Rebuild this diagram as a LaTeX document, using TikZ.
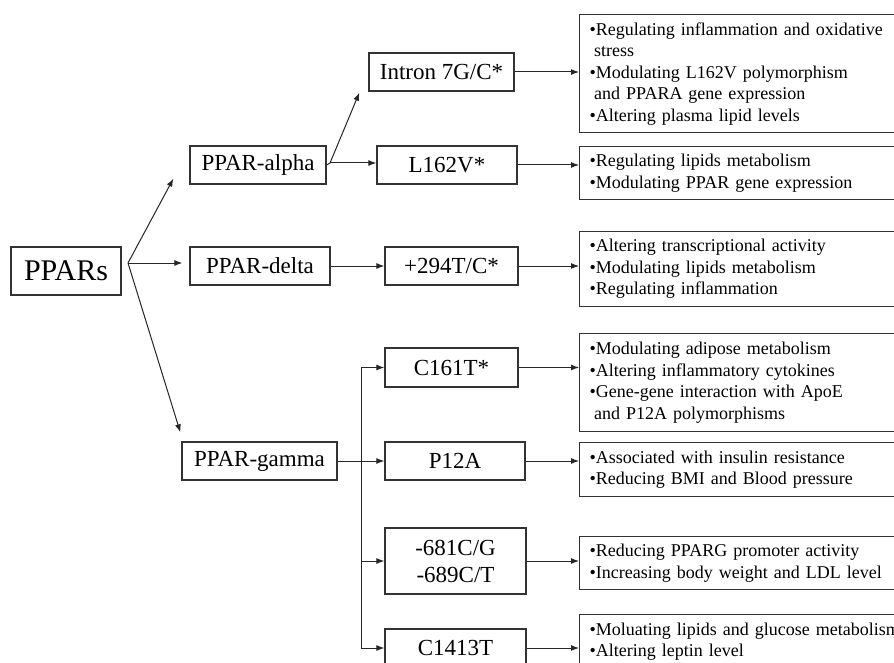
\documentclass[tikz,border=0pt]{standalone}
\usepackage{fontspec}
\setmainfont{Liberation Serif}
\usetikzlibrary{arrows.meta,calc}
\begin{document}
\begin{tikzpicture}[x=1pt,y=-1pt,
  box/.style={draw=black!80, line width=1.3pt, inner sep=0pt, font=\fontsize{23}{27}\selectfont, align=center},
  rbox/.style={draw=black!80, line width=1.3pt, anchor=north west, inner xsep=10pt, inner ysep=0pt, text width=400pt, align=left, font=\fontsize{18}{21.5}\selectfont},
  arr/.style={draw=black!85, line width=1pt, -{Latex[length=8pt,width=6pt]}},
  ln/.style={draw=black!85, line width=1pt}]
\useasboundingbox (0,0) rectangle (894,663);
\clip (0,0) rectangle (894,663);
\fill[white] (0,0) rectangle (894,663);
% left column
\node[box, minimum width=110pt, minimum height=48pt, font=\fontsize{30}{34}\selectfont] (ppars) at (66,271) {PPARs};
\node[box, minimum width=136pt, minimum height=38pt] (alpha) at (258,165) {PPAR-alpha};
\node[box, minimum width=140pt, minimum height=38pt] (delta) at (260,266) {PPAR-delta};
\node[box, minimum width=155pt, minimum height=38pt] (gamma) at (259.5,461) {PPAR-gamma};
% middle column
\node[box, minimum width=145pt, minimum height=38pt] (intron) at (441.5,72) {Intron 7G/C*};
\node[box, minimum width=140pt, minimum height=38pt] (l162) at (447,165) {L162V*};
\node[box, minimum width=133pt, minimum height=38pt] (t294) at (451.5,266) {+294T/C*};
\node[box, minimum width=133pt, minimum height=39pt] (c161) at (451.5,367.5) {C161T*};
\node[box, minimum width=140pt, minimum height=38pt] (p12a) at (455,461) {P12A};
\node[box, minimum width=141pt, minimum height=66pt] (p681) at (455.5,561) {-681C/G\\-689C/T};
\node[box, minimum width=141pt, minimum height=38pt] (c1413) at (455.5,648) {C1413T};
% right column
\node[rbox, minimum height=118pt] (r1) at (579,14) {\textbullet Regulating inflammation and oxidative\\\hspace*{4.5pt}stress\\\textbullet Modulating L162V polymorphism\\\hspace*{4.5pt}and PPARA gene expression\\\textbullet Altering plasma lipid levels};
\node[rbox, minimum height=53pt] (r2) at (579,146) {\textbullet Regulating lipids metabolism\\\textbullet Modulating PPAR gene expression};
\node[rbox, minimum height=75pt] (r3) at (579,231) {\textbullet Altering transcriptional activity\\\textbullet Modulating lipids metabolism\\\textbullet Regulating inflammation};
\node[rbox, minimum height=98pt] (r4) at (579,333) {\textbullet Modulating adipose metabolism\\\textbullet Altering inflammatory cytokines\\\textbullet Gene-gene interaction with ApoE\\\hspace*{4.5pt}and P12A polymorphisms};
\node[rbox, minimum height=54pt] (r5) at (579,442) {\textbullet Associated with insulin resistance\\\textbullet Reducing BMI and Blood pressure};
\node[rbox, minimum height=53pt] (r6) at (579,536) {\textbullet Reducing PPARG promoter activity\\\textbullet Increasing body weight and LDL level};
\node[rbox, minimum height=54pt] (r7) at (579,614) {\textbullet Moluating lipids and glucose metabolism\\\textbullet Altering leptin level};
% fork points
\coordinate (f0) at (128,263);
\coordinate (fa) at (330,163);
\coordinate (fg) at (361,461);
% PPARs branches
\draw[arr] (f0) -- ($(alpha.south west)+(-16,-6)$);
\draw[arr] (f0) -- ($(delta.west)+(-7,-3)$);
\draw[arr] (f0) -- ($(gamma.north west)+(-1,-9)$);
% alpha branches
\draw[ln] (alpha.east) -- (fa);
\draw[arr] (fa) -- ($(intron.south west)+(-9,1)$);
\draw[arr] (fa) -- (fa -| l162.west);
% delta
\draw[arr] (delta.east) -- (delta.east -| t294.west);
% gamma tree
\draw[ln] (gamma.east) -- (fg);
\draw[ln] (fg |- c161.west) -- (fg |- c1413.west);
\draw[arr] (fg |- c161.west) -- (c161.west);
\draw[arr] (fg) -- (p12a.west);
\draw[arr] (fg |- p681.west) -- (p681.west);
\draw[arr] (fg |- c1413.west) -- (c1413.west);
% middle to right
\draw[arr] (intron.east) -- (intron.east -| r1.west);
\draw[arr] (l162.east) -- (l162.east -| r2.west);
\draw[arr] (t294.east) -- (t294.east -| r3.west);
\draw[arr] (c161.east) -- (c161.east -| r4.west);
\draw[arr] (p12a.east) -- (p12a.east -| r5.west);
\draw[arr] (p681.east) -- (p681.east -| r6.west);
\draw[arr] (c1413.east) -- (c1413.east -| r7.west);
\end{tikzpicture}
\end{document}
